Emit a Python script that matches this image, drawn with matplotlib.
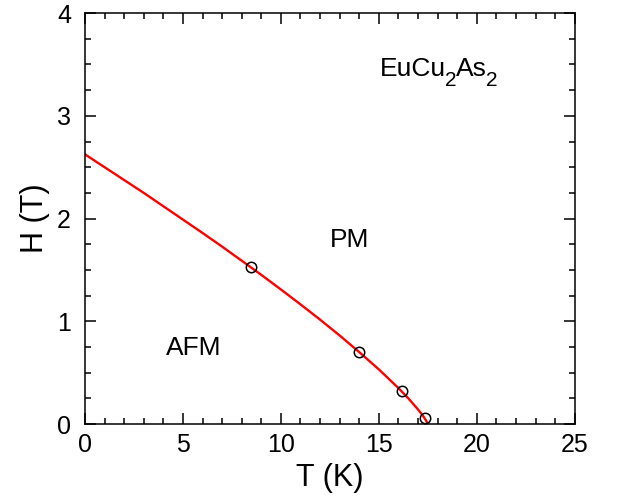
import matplotlib
matplotlib.use("Agg")
import matplotlib.pyplot as plt
from matplotlib.ticker import MultipleLocator
from matplotlib.transforms import offset_copy

plt.rcParams['font.family'] = ['Liberation Sans', 'DejaVu Sans']

# measured transition points
T_pts = [8.45, 13.98, 16.19, 17.38]
H_pts = [1.53, 0.70, 0.324, 0.055]

# fit curve
T_fit = [0, 1, 2, 3, 4, 5, 6, 7, 8, 9, 10, 11, 12, 13, 14, 15, 16, 16.5, 17, 17.25, 17.4, 17.5]
H_fit = [2.625, 2.50, 2.375, 2.25, 2.12, 1.99, 1.86, 1.727, 1.59, 1.452, 1.31, 1.165,
         1.016, 0.862, 0.70, 0.532, 0.350, 0.251, 0.142, 0.081, 0.038, 0.0]

fig = plt.figure(figsize=(6.18, 5.03), dpi=100)
ax = fig.add_axes([0.1375, 0.157, 0.7925, 0.817])

ax.plot(T_fit, H_fit, color='#ff0000', lw=1.7, zorder=2)
ax.plot(T_pts, H_pts, 'o', mfc='none', mec='black', mew=1.1, ms=7.5, zorder=3, clip_on=False)

ax.set_xlim(0, 25)
ax.set_ylim(0, 4)
ax.xaxis.set_major_locator(MultipleLocator(5))
ax.xaxis.set_minor_locator(MultipleLocator(1))
ax.yaxis.set_major_locator(MultipleLocator(1))
ax.yaxis.set_minor_locator(MultipleLocator(0.25))
ax.tick_params(which='both', direction='in', top=True, right=True, width=1.1)
ax.tick_params(which='major', length=8, labelsize=18)
ax.tick_params(which='minor', length=4.5)
ax.tick_params(axis='x', which='major', pad=6.5)
ax.tick_params(axis='y', which='major', pad=10)
for s in ax.spines.values():
    s.set_linewidth(1.1)

ax.set_xlabel('T (K)', fontsize=22, labelpad=4)
ax.set_ylabel('H (T)', fontsize=22, labelpad=5)

# compound label with deep subscripts
fig.canvas.draw()
renderer = fig.canvas.get_renderer()
pieces = [('EuCu', False), ('2', True), ('As', False), ('2', True)]
trans = ax.transData
x_off = 0.0
for txt, sub in pieces:
    t = ax.text(15.05, 3.39, txt, fontsize=15 if sub else 19,
                transform=offset_copy(trans, fig=fig, x=x_off, y=-7.5 if sub else 0, units='points'))
    bb = t.get_window_extent(renderer)
    x_off += bb.width * 72 / fig.dpi - 0.5

ax.text(13.5, 1.72, 'PM', fontsize=19, ha='center')
ax.text(4.13, 0.67, 'AFM', fontsize=19)

fig.savefig('out.png', dpi=100)
